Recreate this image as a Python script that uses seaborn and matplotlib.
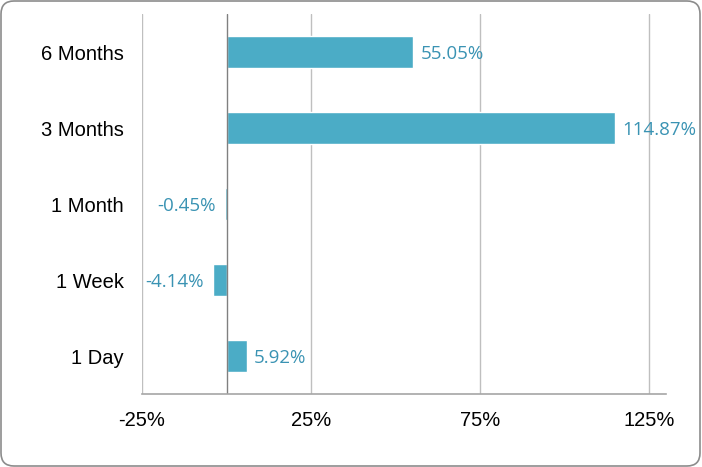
import matplotlib
matplotlib.use("Agg")
import matplotlib.pyplot as plt
import seaborn as sns
import pandas as pd
from matplotlib.patches import FancyBboxPatch
from matplotlib.ticker import FuncFormatter

categories = ["6 Months", "3 Months", "1 Month", "1 Week", "1 Day"]
values = [55.05, 114.87, -0.45, -4.14, 5.92]
x_ticks = [-25, 25, 75, 125]

df = pd.DataFrame({"period": categories, "ret": values})

sns.set_style("white")
plt.rcParams["font.family"] = ["Liberation Sans", "DejaVu Sans"]

fig = plt.figure(figsize=(7.02, 4.67), dpi=100)
ax = fig.add_axes([142/702, 1-394/467, (666-142)/702, (394-14)/467])

bar_color = "#4BACC6"
sns.barplot(data=df, y="period", x="ret", orient="h", color=bar_color,
            saturation=1, width=0.41, ax=ax, order=categories)

ax.set_xlim(-25, 130)
ax.set_ylim(4.5, -0.5)
ax.set_xticks(x_ticks)
ax.xaxis.set_major_formatter(FuncFormatter(lambda v, p: f"{v:.0f}%"))
ax.set_xlabel("")
ax.set_ylabel("")
ax.grid(axis="x", color="#BFBFBF", linewidth=1)
ax.grid(axis="y", visible=False)
ax.set_axisbelow(True)
ax.axvline(0, color="#808080", linewidth=1, zorder=1)
for s in ["top", "right", "left"]:
    ax.spines[s].set_visible(False)
ax.spines["bottom"].set_color("#A6A6A6")
ax.spines["bottom"].set_linewidth(1.2)
ax.tick_params(axis="x", length=0, pad=12.5, labelsize=14.5, labelcolor="black")
ax.tick_params(axis="y", length=0, pad=13, labelsize=14.5, labelcolor="black")

label_color = "#3A93B3"
for i, v in enumerate(values):
    if v >= 0:
        ax.annotate(f"{v:.2f}%", xy=(v, i), xytext=(5.5, 0), textcoords="offset points",
                    ha="left", va="center_baseline", color=label_color, fontsize=13.5,
                    family=["Open Sans", "DejaVu Sans"])
    else:
        ax.annotate(f"{v:.2f}%", xy=(v, i), xytext=(-6.5, 0), textcoords="offset points",
                    ha="right", va="center_baseline", color=label_color, fontsize=13.5,
                    family=["Open Sans", "DejaVu Sans"])

border = FancyBboxPatch((0.01, 0.01), 6.99, 4.65,
                        boxstyle="round,pad=0,rounding_size=0.13",
                        transform=fig.dpi_scale_trans, fill=False,
                        edgecolor="#8C8C8C", linewidth=1.2)
fig.patches.append(border)

fig.savefig("out.png", dpi=100)
